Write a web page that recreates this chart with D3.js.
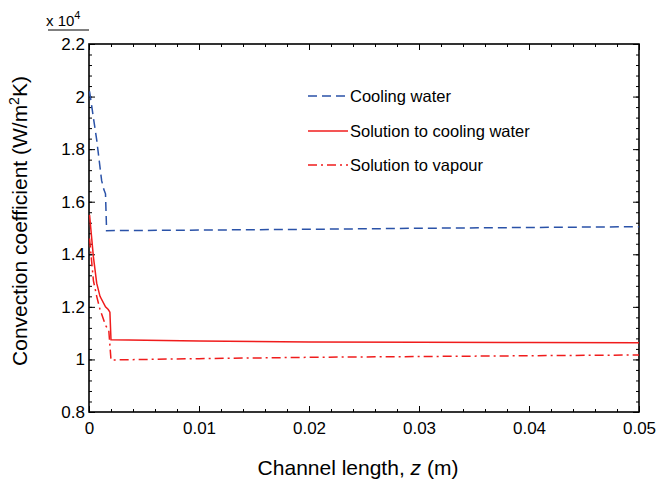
<!DOCTYPE html>
<html>
<head>
<meta charset="utf-8">
<script src="https://cdn.jsdelivr.net/npm/d3@7"></script>
<style>
body { margin: 0; background: #fff; }
text { font-family: Arial, "Liberation Sans", sans-serif; }
</style>
</head>
<body>
<svg id="chart" width="657" height="482"></svg>
<script>
// values (y in units of 10^4 W/m2K)
var coolX = [0.00005, 0.0004, 0.0007, 0.00115, 0.00136, 0.0015, 0.0016, 0.01, 0.02, 0.03, 0.04, 0.05];
var coolY = [2.02, 1.92, 1.835, 1.68, 1.645, 1.63, 1.49, 1.492, 1.495, 1.499, 1.502, 1.505];

var solX = [0.00005, 0.0004, 0.0007, 0.001, 0.0015, 0.00175, 0.0019, 0.002, 0.01, 0.02, 0.03, 0.04, 0.05];
var solY = [1.55, 1.39, 1.29, 1.24, 1.2, 1.19, 1.18, 1.075, 1.07, 1.066, 1.065, 1.064, 1.063];

var vapX = [0.00005, 0.0004, 0.0007, 0.001, 0.0015, 0.0018, 0.002, 0.01, 0.02, 0.03, 0.04, 0.05];
var vapY = [1.46, 1.3, 1.24, 1.19, 1.13, 1.11, 0.998, 1.003, 1.008, 1.011, 1.014, 1.017];

var xTicks = [0, 0.01, 0.02, 0.03, 0.04, 0.05];
var yTicks = [0.8, 1, 1.2, 1.4, 1.6, 1.8, 2, 2.2];
var legendNames = ["Cooling water", "Solution to cooling water", "Solution to vapour"];

var margin = {left: 89, top: 44, right: 18, bottom: 70};
var width = 639 - margin.left, height = 412 - margin.top;

var svg = d3.select("#chart");
var g = svg.append("g").attr("transform", "translate(" + margin.left + "," + margin.top + ")");

var x = d3.scaleLinear().domain([0, 0.05]).range([0, width]);
var y = d3.scaleLinear().domain([0.8, 2.2]).range([height, 0]);

var minorX = d3.range(0, 0.0501, 0.002), minorY = d3.range(0.8, 2.201, 0.04);
var fmtX = function(d) { return d === 0 ? "0" : d3.format(".2f")(d); };
var fmtY = function(d) { return d === 1 || d === 2 ? String(d) : d3.format(".1f")(d); };

function styleAxis(sel) {
	sel.select(".domain").remove();
	sel.selectAll("line").attr("stroke", "#000").attr("stroke-width", 1);
	sel.selectAll("text").attr("font-size", 17).attr("fill", "#000");
}

// minor ticks all round
g.append("g").attr("transform", "translate(0," + height + ")")
	.call(d3.axisBottom(x).tickValues(minorX).tickSize(-3).tickFormat("")).call(styleAxis);
g.append("g").call(d3.axisTop(x).tickValues(minorX).tickSize(-3).tickFormat("")).call(styleAxis);
g.append("g").call(d3.axisLeft(y).tickValues(minorY).tickSize(-3).tickFormat("")).call(styleAxis);
g.append("g").attr("transform", "translate(" + width + ",0)")
	.call(d3.axisRight(y).tickValues(minorY).tickSize(-3).tickFormat("")).call(styleAxis);

// major ticks + labels
g.append("g").attr("transform", "translate(0," + height + ")")
	.call(d3.axisBottom(x).tickValues(xTicks).tickSize(-6).tickPadding(10).tickFormat(fmtX)).call(styleAxis);
g.append("g").call(d3.axisTop(x).tickValues(xTicks).tickSize(-6).tickFormat("")).call(styleAxis);
g.append("g")
	.call(d3.axisLeft(y).tickValues(yTicks).tickSize(-6).tickPadding(4).tickFormat(fmtY)).call(styleAxis);
g.append("g").attr("transform", "translate(" + width + ",0)")
	.call(d3.axisRight(y).tickValues(yTicks).tickSize(-6).tickFormat("")).call(styleAxis);

g.append("rect").attr("width", width).attr("height", height)
	.attr("fill", "none").attr("stroke", "#000").attr("stroke-width", 1.6);

var line = d3.line().x(function(d) { return x(d[0]); }).y(function(d) { return y(d[1]); });
var series = [
	{xs: coolX, ys: coolY, color: "#2a52a8", dash: "9,5"},
	{xs: solX, ys: solY, color: "#f01c1c", dash: null},
	{xs: vapX, ys: vapY, color: "#f01c1c", dash: "9,4,2,4"}
];
series.forEach(function(s) {
	var pts = s.xs.map(function(v, i) { return [v, s.ys[i]]; });
	g.append("path").datum(pts).attr("d", line)
		.attr("fill", "none").attr("stroke", s.color).attr("stroke-width", 1.5)
		.attr("stroke-dasharray", s.dash);
});

// legend
var legY = [96, 131, 165];
series.forEach(function(s, i) {
	svg.append("line").attr("x1", 308).attr("x2", 348).attr("y1", legY[i]).attr("y2", legY[i])
		.attr("stroke", s.color).attr("stroke-width", 1.5).attr("stroke-dasharray", s.dash);
	svg.append("text").attr("x", 350).attr("y", legY[i] + 6).attr("font-size", 16.5)
		.text(legendNames[i]);
});

// exponent label
var ex = svg.append("text").attr("x", 46).attr("y", 26).attr("font-size", 15);
ex.append("tspan").text("x 10");
ex.append("tspan").attr("dy", -7).attr("font-size", 11).text("4");
svg.append("line").attr("x1", 48).attr("x2", 89).attr("y1", 30).attr("y2", 30)
	.attr("stroke", "#000").attr("stroke-width", 1);

// axis titles
var xt = svg.append("text").attr("x", 358).attr("y", 475).attr("text-anchor", "middle").attr("font-size", 21);
xt.append("tspan").text("Channel length, ");
xt.append("tspan").attr("font-style", "italic").text("z");
xt.append("tspan").text(" (m)");

var yt = svg.append("text").attr("transform", "translate(27,221) rotate(-90)")
	.attr("text-anchor", "middle").attr("font-size", 21);
yt.append("tspan").text("Convection coefficient (W/m");
yt.append("tspan").attr("dy", -8).attr("font-size", 14).text("2");
yt.append("tspan").attr("dy", 8).text("K)");
</script>
</body>
</html>
